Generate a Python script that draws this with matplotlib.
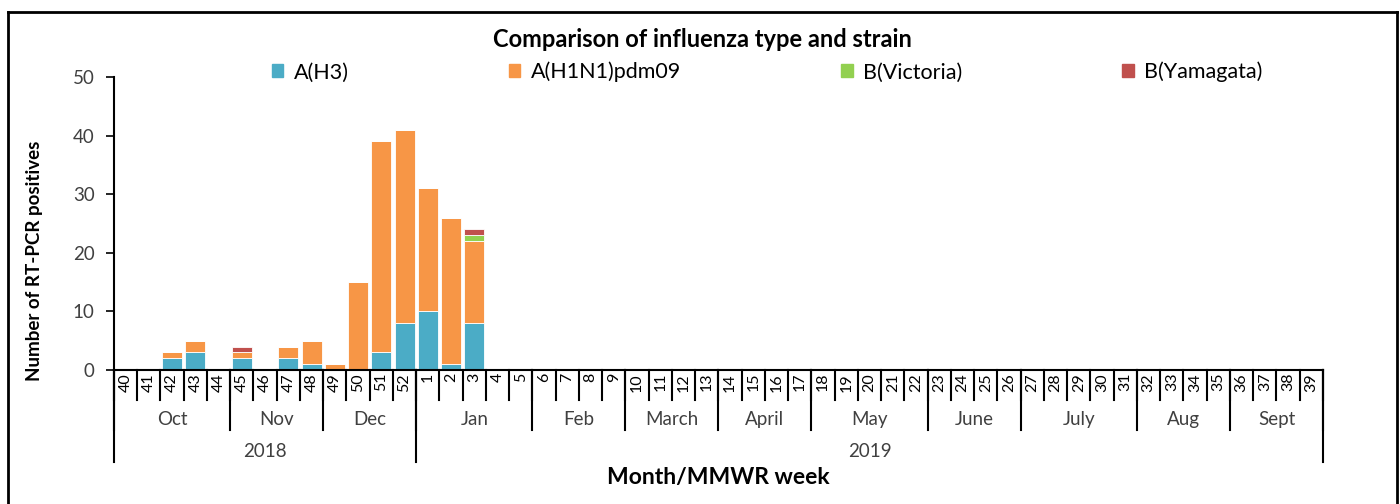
import matplotlib.pyplot as plt
from matplotlib.lines import Line2D
from matplotlib.patches import Patch

plt.rcParams['font.family'] = ['Lato', 'DejaVu Sans']

weeks = [40, 41, 42, 43, 44, 45, 46, 47, 48, 49, 50, 51, 52,
         1, 2, 3, 4, 5, 6, 7, 8, 9, 10, 11, 12, 13, 14, 15, 16, 17,
         18, 19, 20, 21, 22, 23, 24, 25, 26, 27, 28, 29, 30, 31,
         32, 33, 34, 35, 36, 37, 38, 39]
h3 = [0, 0, 2, 3, 0, 2, 0, 2, 1, 0, 0, 3, 8, 10, 1, 8] + [0] * 36
h1n1 = [0, 0, 1, 2, 0, 1, 0, 2, 4, 1, 15, 36, 33, 21, 25, 14] + [0] * 36
victoria = [0] * 15 + [1] + [0] * 36
yamagata = [0] * 5 + [1] + [0] * 9 + [1] + [0] * 36

months = ['Oct', 'Nov', 'Dec', 'Jan', 'Feb', 'March', 'April', 'May',
          'June', 'July', 'Aug', 'Sept']
month_weeks = [5, 4, 4, 5, 4, 4, 4, 5, 4, 5, 4, 4]
years = ['2018', '2019']
year_weeks = [13, 39]

series = [('A(H3)', h3, '#4BACC6'),
          ('A(H1N1)pdm09', h1n1, '#F79646'),
          ('B(Victoria)', victoria, '#92D050'),
          ('B(Yamagata)', yamagata, '#C0504D')]

fig = plt.figure(figsize=(14, 5.04), dpi=100)
ax = fig.add_axes([0.0814, 0.2659, 0.8636, 0.5813])

x = list(range(len(weeks)))
bottom = [0] * len(weeks)
for name, vals, col in series:
    ax.bar(x, vals, width=0.86, bottom=bottom, color=col,
           edgecolor='white', linewidth=0.6, label=name)
    bottom = [b + v for b, v in zip(bottom, vals)]

ax.set_xlim(-0.5, len(weeks) - 0.5)
ax.set_ylim(0, 50)
ax.set_yticks(range(0, 51, 10))
ax.tick_params(axis='y', labelsize=13.5, length=6, width=1.2, colors='black',
               labelcolor='#404040', pad=8)
ax.set_xticks([])
for s in ['top', 'right']:
    ax.spines[s].set_visible(False)
ax.spines['left'].set_linewidth(1.5)
ax.spines['bottom'].set_linewidth(1.5)

tr = ax.get_xaxis_transform()
lk = dict(color='black', lw=1.5, clip_on=False, transform=tr)

# week labels and separators
for i, w in enumerate(weeks):
    ax.text(i, -0.01, str(w), rotation=90, ha='center', va='top',
            fontsize=11.5, transform=tr)
for i in range(len(weeks) + 1):
    ax.add_line(Line2D([i - 0.5, i - 0.5], [0, -0.102], **lk))

# month labels
start = 0
for m, n in zip(months, month_weeks):
    ax.text(start + n / 2 - 0.5, -0.168, m, ha='center', va='center',
            fontsize=13.5, color='#404040', transform=tr)
    ax.add_line(Line2D([start - 0.5, start - 0.5], [0, -0.205], **lk))
    start += n
ax.add_line(Line2D([start - 0.5, start - 0.5], [0, -0.205], **lk))

# year labels
start = 0
for y, n in zip(years, year_weeks):
    ax.text(start + n / 2 - 0.5, -0.278, y, ha='center', va='center',
            fontsize=13.5, color='#404040', transform=tr)
    ax.add_line(Line2D([start - 0.5, start - 0.5], [0, -0.314], **lk))
    start += n
ax.add_line(Line2D([start - 0.5, start - 0.5], [0, -0.314], **lk))

fig.text(0.513, 0.052, 'Month/MMWR week', ha='center', va='center',
         fontsize=16.5, fontweight='bold')
fig.text(0.025, 0.482, 'Number of RT-PCR positives', rotation=90,
         ha='center', va='center', fontsize=13.5, fontweight='bold')
fig.text(0.502, 0.921, 'Comparison of influenza type and strain',
         ha='center', va='center', fontsize=17, fontweight='bold')

handles = [Patch(color=c) for _, _, c in series]
fig.legend(handles, [s[0] for s in series], ncol=4, loc='center',
           bbox_to_anchor=(0.548, 0.857), frameon=False, fontsize=15.5,
           handlelength=0.55, handleheight=0.55, handletextpad=0.5,
           columnspacing=7.4)

# outer frame
for xs, ys in [([0.006, 0.006], [0, 0.976]), ([0.006, 0.998], [0.976, 0.976]),
               ([0.998, 0.998], [0, 0.976])]:
    fig.add_artist(Line2D(xs, ys, color='black', lw=2, transform=fig.transFigure))

fig.savefig('out.png', dpi=100)
